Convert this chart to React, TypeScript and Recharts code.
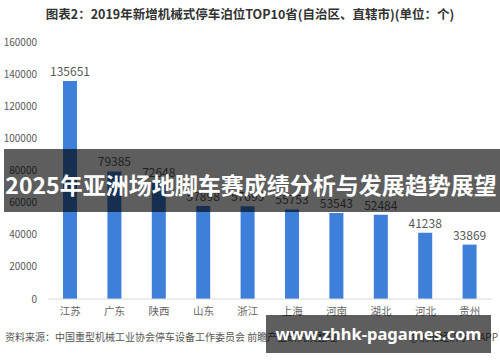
import React from 'react';
import { BarChart, Bar, XAxis, YAxis, LabelList } from 'recharts';

const provinces = ['江苏', '广东', '陕西', '山东', '浙江', '上海', '河南', '湖北', '河北', '贵州'];
const berths = [135651, 79385, 72648, 57898, 57695, 55753, 53543, 52484, 41238, 33869];
const yTicks = [0, 20000, 40000, 60000, 80000, 100000, 120000, 140000, 160000];

const titleText = '图表2：2019年新增机械式停车泊位TOP10省(自治区、直辖市)(单位：个)';
const sourceText = '资料来源：中国重型机械工业协会停车设备工作委员会 前瞻产业研究院整理';
const brandText = '@前瞻经济学人APP';
const bannerText = '2025年亚洲场地脚车赛成绩分析与发展趋势展望';
const siteText = 'www.zhhk-pagames.com';

const data = provinces.map((p, i) => ({ name: p, value: berths[i] }));

const FONT = '"Noto Sans CJK SC", "Noto Sans", sans-serif';

export default function App() {
  return (
    <div style={{ position: 'absolute', left: 0, top: 0, width: 500, height: 362, background: '#fff', fontFamily: FONT }}>
      <BarChart
        width={500}
        height={362}
        data={data}
        margin={{ top: 42, right: 8, bottom: 33, left: 0 }}
      >
        <XAxis
          dataKey="name"
          height={30}
          axisLine={{ stroke: '#d9d9d9' }}
          tickLine={false}
          tickSize={6}
          tickMargin={3}
          tick={{ fontSize: 10.5, fill: '#666', fontFamily: FONT }}
          interval={0}
        />
        <YAxis
          width={48}
          domain={[0, 160000]}
          ticks={yTicks}
          axisLine={false}
          tickLine={false}
          tickSize={9}
          tickMargin={2}
          tick={{ fontSize: 10, fill: '#595959', fontFamily: FONT }}
        />
        <Bar dataKey="value" fill="#3d7fd9" barSize={14} isAnimationActive={false}>
          <LabelList dataKey="value" position="top" offset={5} style={{ fontSize: 12, fill: '#595959', fontFamily: FONT }} />
        </Bar>
      </BarChart>
      <svg width={500} height={362} style={{ position: 'absolute', left: 0, top: 0, pointerEvents: 'none' }}>
        <text x={250} y={19} textAnchor="middle" fontSize={12.5} fontWeight="bold" fill="#333" fontFamily={FONT}>{titleText}</text>
        <text x={5} y={341} fontSize={10} fill="#555" fontFamily={FONT}>{sourceText}</text>
        <text x={498} y={341} textAnchor="end" fontSize={10} fill="#555" fontFamily={FONT}>{brandText}</text>
        <rect x={4} y={149} width={496} height={63} fill="rgba(0,0,0,0.63)" />
        <text x={251} y={194} textAnchor="middle" fontSize={23} fontWeight="bold" fill="#fff" fontFamily={FONT}>{bannerText}</text>
        <rect x={266} y={315} width={225} height={38} fill="rgba(0,0,0,0.63)" />
        <text x={378.5} y={340} textAnchor="middle" fontSize={16.5} fontWeight="bold" fill="#fff" fontFamily='"Noto Sans", sans-serif'>{siteText}</text>
      </svg>
    </div>
  );
}
